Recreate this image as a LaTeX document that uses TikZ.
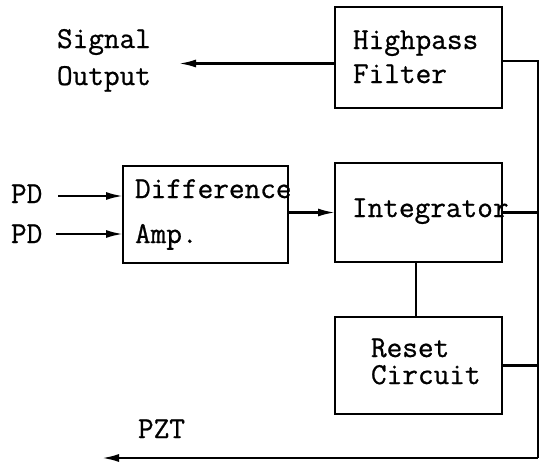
\documentclass[tikz,border=0pt]{standalone}
\usepackage{fontspec}
\newfontfamily\typew{Latin Modern Mono}[FakeBold=0.8]
\newcommand\tlines[3]{\vtop{\baselineskip=#1\hbox{#2}\hbox{#3}}}
\usetikzlibrary{arrows.meta}
\begin{document}
\begin{tikzpicture}[x=1pt,y=-1pt,
  box/.style={draw,line width=2.3pt,inner sep=0pt,outer sep=0pt},
  lbl/.style={anchor=base west,inner sep=0pt,outer sep=0pt,font=\typew\fontsize{30.4}{34}\selectfont},
  wire/.style={line width=2.2pt},
  arr/.style={wire,-{Latex[length=17pt,width=8pt]}}]
\useasboundingbox (0,0) rectangle (540,461);
% boxes
\node[box,minimum width=167pt,minimum height=101pt] (hp) at (418.5,57.5) {};
\node[box,minimum width=165pt,minimum height=97pt] (da) at (205.5,214.5) {};
\node[box,minimum width=167pt,minimum height=99pt] (int) at (418.5,212.5) {};
\node[box,minimum width=167pt,minimum height=97pt] (rs) at (418.5,365.5) {};
% texts
\node[lbl] (so) at (57,48) {\tlines{37pt}{Signal}{Output}};
\node[lbl] (hpt) at (353,49) {\tlines{34pt}{Highpass}{Filter}};
\node[lbl] (pda) at (11,203) {PD};
\node[lbl] (pdb) at (11,243) {PD};
\node[lbl] (dat) at (135,198) {\tlines{45pt}{Difference}{Amp.}};
\node[lbl] (intt) at (352,217) {Integrator};
\node[lbl] (rst) at (371,357) {\tlines{27pt}{Reset}{Circuit}};
\node[lbl] (pztt) at (138,438) {PZT};
% coordinates
\coordinate (sig) at (179,63.5);
\coordinate (p1) at (58,196);
\coordinate (p2) at (56,234);
\coordinate (rtop) at (538,61);
\coordinate (rbot) at (538,458);
\coordinate (pzt) at (102,458);
% connectors
\draw[arr] ([yshift=-6pt]hp.west) -- (sig);
\draw[arr] (p1) -- (p1 -| da.west);
\draw[arr] (p2) -- (p2 -| da.west);
\draw[arr] ([yshift=2pt]da.east) -- ([yshift=2pt]da.east -| int.west);
\draw[wire] ([yshift=-3.5pt]hp.east) -- (rtop) -- (rbot);
\draw[wire] (int.east) -- (int.east -| rbot);
\draw[wire] (rs.east) -- (rs.east -| rbot);
\draw[wire] ([xshift=-2.5pt]int.south) -- ([xshift=-2.5pt]rs.north);
\draw[arr] (rbot) -- (pzt);
\end{tikzpicture}
\end{document}
